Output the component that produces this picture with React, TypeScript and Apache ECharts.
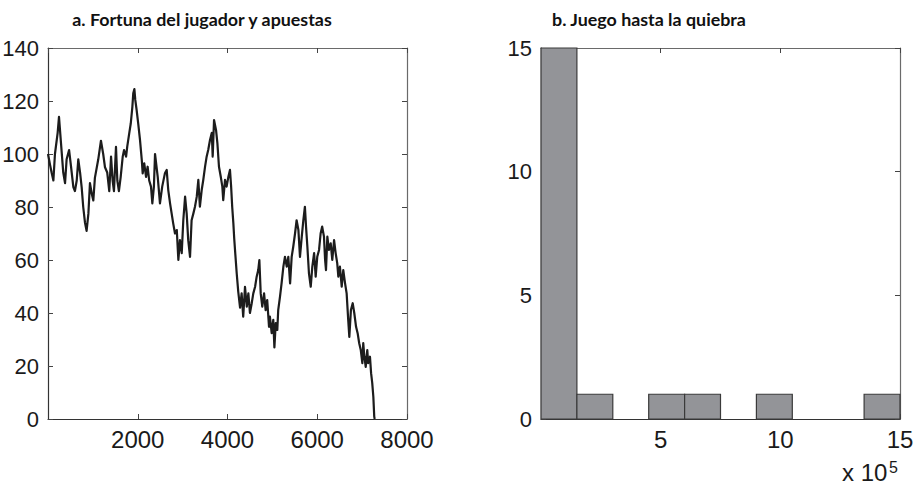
import React, { useEffect, useRef } from "react";
import * as echarts from "echarts";

// Panel a: gambler's fortune against the number of bets placed
const steps = [
  0, 45, 80, 120, 155, 215, 245, 290, 340, 380, 415, 470, 515, 565, 600, 640, 675, 715, 750, 785,
  825, 860, 900, 935, 975, 1010, 1045, 1120, 1180, 1230, 1270, 1320, 1365, 1405, 1440, 1470, 1515, 1545, 1580, 1620,
  1665, 1695, 1740, 1765, 1810, 1845, 1880, 1900, 1925, 1945, 1975, 2010, 2050, 2090, 2110, 2145, 2185, 2220, 2255, 2295,
  2325, 2360, 2385, 2445, 2495, 2545, 2605, 2645, 2680, 2720, 2755, 2790, 2830, 2870, 2905, 2940, 2980, 3015, 3055, 3090,
  3125, 3165, 3200, 3240, 3275, 3315, 3350, 3385, 3425, 3460, 3500, 3535, 3570, 3610, 3650, 3670, 3700, 3745, 3775, 3810,
  3850, 3885, 3905, 3945, 3980, 4020, 4055, 4080, 4105, 4130, 4150, 4175, 4205, 4240, 4280, 4315, 4350, 4390, 4430, 4465,
  4500, 4540, 4575, 4615, 4650, 4685, 4710, 4740, 4775, 4815, 4850, 4885, 4925, 4945, 4985, 5020, 5045, 5075, 5110, 5130,
  5170, 5205, 5245, 5280, 5320, 5355, 5395, 5430, 5465, 5505, 5540, 5580, 5615, 5655, 5690, 5725, 5750, 5780, 5815, 5855,
  5890, 5930, 5965, 6000, 6040, 6075, 6110, 6150, 6175, 6195, 6225, 6260, 6300, 6335, 6375, 6410, 6445, 6470, 6505, 6545,
  6580, 6620, 6655, 6690, 6715, 6750, 6790, 6825, 6865, 6900, 6935, 6970, 7005, 7025, 7050, 7080, 7115, 7135, 7175, 7200,
  7225, 7250, 7270, 7280,
];
const fortune = [
  100, 96, 93, 90, 100, 108, 114, 104, 93, 89, 98, 101.5, 95, 87.5, 86, 90, 98, 93, 87.5, 80,
  74, 71, 77.5, 89, 85, 82.5, 91, 98, 105, 100, 95, 93, 86, 99, 90, 86, 102.7, 90, 86, 91.4,
  99, 101.5, 99, 102.7, 107.8, 111.6, 117.8, 122.9, 124.5, 120.4, 116.6, 111.6, 105.3, 97.7, 92.7, 96.5, 91.4, 95.2, 90, 87.7,
  81.4, 87.7, 100, 91.4, 81.4, 87.7, 92.7, 94, 86.4, 81.4, 77.6, 73.8, 70, 71.3, 60, 67.5, 62.6, 75, 83.9, 77.6,
  67.5, 61.2, 75, 77.6, 80.1, 83.9, 90.2, 80.1, 86.4, 90.2, 95.2, 99, 101.5, 105.3, 108, 99, 112.8, 109, 104, 95.2,
  91.4, 87.7, 82.6, 90.2, 87.7, 91.4, 94, 88, 80, 74, 68, 62, 55, 48, 42, 47.4, 38.6, 49.9, 42.4, 47.4,
  40, 43.7, 47.4, 49.9, 53.7, 56.2, 60, 47.4, 42.4, 47.4, 41.1, 44.9, 34.8, 38.6, 32.4, 37.4, 27, 36.2, 33.6, 41.1,
  46.2, 51.2, 57.5, 61.2, 57.5, 61.2, 51.2, 61.2, 65, 70, 75, 71.3, 61.2, 68.8, 75, 80.1, 72.6, 65, 55, 49.9,
  57.5, 62.6, 53.7, 61.2, 63.8, 70, 72.6, 68.8, 60, 56.2, 68.8, 63.8, 66.3, 60, 67.5, 62.6, 58.8, 53.7, 57.5, 49.9,
  56.2, 51.2, 47.4, 37.4, 31, 41.1, 43.7, 40, 34.8, 32.4, 28.6, 26, 21.1, 28.6, 23.5, 19.7, 26, 21.1, 23.5, 17.3,
  13.6, 8.4, 0.9, 0,
];

// Panel b: histogram of the number of bets played until ruin (x 10^5)
const binEdges = [0, 1.5, 3, 4.5, 6, 7.5, 9, 10.5, 12, 13.5, 15];
const binCounts = [15, 1, 0, 1, 1, 0, 1, 0, 0, 1];

const titleA = "a. Fortuna del jugador y apuestas";
const titleB = "b. Juego hasta la quiebra";

const tickFont = "'Liberation Sans', Arial, sans-serif";
const titleFont = "Lato, 'Open Sans', sans-serif";

function boxAxes(gridIndex: number, min: number, max: number, interval: number, kind: "x" | "y") {
  const tick = { show: true, inside: true, length: 5, lineStyle: { color: "#444", width: 1 } };
  const main = {
    type: "value",
    gridIndex,
    min,
    max,
    interval,
    position: kind === "x" ? "bottom" : "left",
    axisLine: { show: true, onZero: false, lineStyle: { color: "#333", width: 1.2 } },
    axisTick: tick,
    axisLabel: {
      show: true,
      fontSize: kind === "x" ? 24 : 22,
      color: "#1a1a1a",
      fontFamily: tickFont,
      margin: kind === "x" ? 8 : 9,
      showMinLabel: kind === "y",
      formatter: (v: number) => String(v),
    },
    splitLine: { show: false },
  };
  const mirror = {
    type: "value",
    gridIndex,
    min,
    max,
    interval,
    position: kind === "x" ? "top" : "right",
    axisLine: { show: true, onZero: false, lineStyle: { color: "#6a6a6a", width: 1.2 } },
    axisTick: tick,
    axisLabel: { show: false },
    splitLine: { show: false },
  };
  return [main, mirror];
}

function titleText(x: number, text: string) {
  return {
    type: "text",
    x,
    y: 11,
    scaleX: 1.05,
    style: {
      text,
      fontFamily: titleFont,
      fontWeight: "bold",
      fontSize: 17,
      fill: "#111",
      textAlign: "center",
      textVerticalAlign: "top",
    },
  };
}

export default function App() {
  const ref = useRef<HTMLDivElement>(null);

  useEffect(() => {
    if (!ref.current) return;
    const chart = echarts.init(ref.current, null, { renderer: "svg" });

    const walk = steps.map((s, i) => [s, fortune[i]]);
    const bins = binCounts.map((c, i) => [binEdges[i], binEdges[i + 1], c]);

    chart.setOption({
      animation: false,
      backgroundColor: "#ffffff",
      grid: [
        { left: 48, top: 48, width: 359, height: 371, outerBoundsMode: "none", containLabel: false },
        { left: 541, top: 48, width: 359, height: 371, outerBoundsMode: "none", containLabel: false },
      ],
      xAxis: [
        ...boxAxes(0, 0, 8000, 2000, "x"),
        ...boxAxes(1, 0, 15, 5, "x"),
      ],
      yAxis: [
        ...boxAxes(0, 0, 140, 20, "y"),
        ...boxAxes(1, 0, 15, 5, "y"),
      ],
      series: [
        {
          type: "line",
          xAxisIndex: 0,
          yAxisIndex: 0,
          data: walk,
          symbol: "none",
          clip: true,
          lineStyle: { color: "#1c1c1c", width: 2.2, join: "round" },
        },
        {
          type: "custom",
          xAxisIndex: 2,
          yAxisIndex: 2,
          data: bins,
          encode: { x: [0, 1], y: 2 },
          renderItem: (_params: any, api: any) => {
            const count = api.value(2);
            if (!count) return null;
            const topLeft = api.coord([api.value(0), count]);
            const bottomRight = api.coord([api.value(1), 0]);
            return {
              type: "rect",
              shape: {
                x: topLeft[0],
                y: topLeft[1],
                width: bottomRight[0] - topLeft[0],
                height: bottomRight[1] - topLeft[1],
              },
              style: { fill: "#939498", stroke: "#3a3a3a", lineWidth: 1.2 },
            };
          },
        },
      ],
      graphic: [
        titleText(202, titleA),
        titleText(649, titleB),
        {
          type: "text",
          x: 842,
          y: 460,
          style: {
            text: "x 10",
            fontFamily: tickFont,
            fontSize: 24,
            lineHeight: 24,
            fill: "#1a1a1a",
            textAlign: "left",
            textVerticalAlign: "top",
          },
        },
        {
          type: "text",
          x: 889,
          y: 459,
          style: {
            text: "5",
            fontFamily: tickFont,
            fontSize: 16,
            lineHeight: 16,
            fill: "#1a1a1a",
            textAlign: "left",
            textVerticalAlign: "top",
          },
        },
      ],
    });

    return () => chart.dispose();
  }, []);

  return (
    <div
      ref={ref}
      style={{ position: "fixed", left: 0, top: 0, width: 917, height: 485, background: "#fff" }}
    />
  );
}
